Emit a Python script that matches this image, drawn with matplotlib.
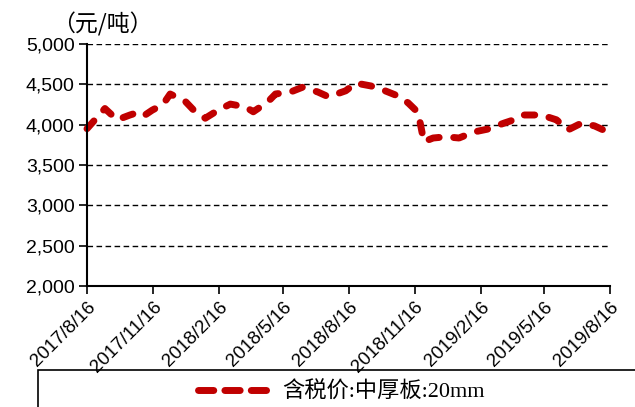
import numpy as np
import pandas as pd
import matplotlib
matplotlib.use("Agg")
import matplotlib.pyplot as plt
from matplotlib.lines import Line2D
from matplotlib.patches import Rectangle

plt.rcParams['font.family'] = ['Liberation Sans', 'Noto Sans CJK SC', 'DejaVu Sans']

# price of 20mm medium plate, tax included (yuan/ton)
dates = ["2017-08-16", "2017-09-10", "2017-09-27", "2017-10-15", "2017-10-29",
         "2017-11-05", "2017-11-15", "2017-11-30", "2017-12-10", "2017-12-31",
         "2018-01-14", "2018-01-28", "2018-02-15", "2018-03-04", "2018-03-25",
         "2018-04-05", "2018-04-25", "2018-05-06", "2018-05-27", "2018-06-13",
         "2018-07-04", "2018-07-19", "2018-08-12", "2018-08-26", "2018-09-16",
         "2018-10-03", "2018-10-24", "2018-11-07", "2018-11-21", "2018-11-29",
         "2018-12-12", "2018-12-30", "2019-01-17", "2019-02-07", "2019-02-26",
         "2019-03-21", "2019-04-07", "2019-04-16", "2019-05-12", "2019-06-02",
         "2019-06-18", "2019-07-07", "2019-07-25", "2019-08-15"]
prices = [3950, 4200, 4060, 4120, 4160,
          4120, 4180, 4250, 4380, 4290,
          4160, 4080, 4180, 4255, 4220,
          4160, 4280, 4380, 4405, 4465,
          4405, 4345, 4420, 4515, 4480,
          4430, 4355, 4270, 4150, 3790,
          3835, 3850, 3835, 3910, 3945,
          4020, 4070, 4120, 4120, 4060,
          3935, 4020, 3985, 3900]

tick_dates = ["2017-08-16", "2017-11-16", "2018-02-16", "2018-05-16", "2018-08-16",
              "2018-11-16", "2019-02-16", "2019-05-16", "2019-08-16"]
tick_labels = ["2017/8/16", "2017/11/16", "2018/2/16", "2018/5/16", "2018/8/16",
               "2018/11/16", "2019/2/16", "2019/5/16", "2019/8/16"]
y_ticks = [2000, 2500, 3000, 3500, 4000, 4500, 5000]
series_name = "含税价:中厚板:20mm"
red = "#C00000"

x = pd.to_datetime(dates)
xt = pd.to_datetime(tick_dates)

fig = plt.figure(figsize=(6.35, 4.07), dpi=100)
ax = fig.add_axes([0.137, 0.297, 0.824, 0.595])

ax.plot(x, prices, color=red, lw=5, linestyle=(0, (1.5, 2.1)),
        dash_capstyle="round", solid_capstyle="round", clip_on=False)

ax.set_xlim(xt[0], xt[-1])
ax.set_ylim(2000, 5000)
ax.set_yticks(y_ticks)
ax.set_yticklabels([f"{v:,}" for v in y_ticks], fontsize=14)
ax.set_xticks(xt)
ax.set_xticklabels(tick_labels, fontsize=13.5, rotation=45, ha="right",
                   va="top", rotation_mode="anchor")

for v in y_ticks[1:]:
    ax.axhline(v, color="black", lw=1, linestyle=(0, (4, 2.5)), zorder=0)

for s in ["top", "right"]:
    ax.spines[s].set_visible(False)
for s in ["left", "bottom"]:
    ax.spines[s].set_linewidth(1.5)
ax.tick_params(axis="both", direction="out", length=6, width=1.2, pad=3)

fig.text(0.161, 0.939, "（元/吨）", fontsize=16.5, ha="center", va="center",
         family=["Noto Sans CJK SC"])

# legend box running off the lower right edge
fig.patches.append(Rectangle((38 / 635, -0.1), 1.0, 0.191, transform=fig.transFigure,
                             fill=False, edgecolor="black", lw=1.2))
handle = Line2D([], [], color=red, lw=5, linestyle=(0, (2.2, 1.6)),
                dash_capstyle="round")
fig.legend([handle], [series_name], loc="center", bbox_to_anchor=(0.537, 0.037),
           frameon=False, handlelength=3.3, handletextpad=0.5,
           prop={"family": ["Liberation Serif", "Noto Sans CJK SC"], "size": 16})

fig.savefig("out.png", dpi=100)
